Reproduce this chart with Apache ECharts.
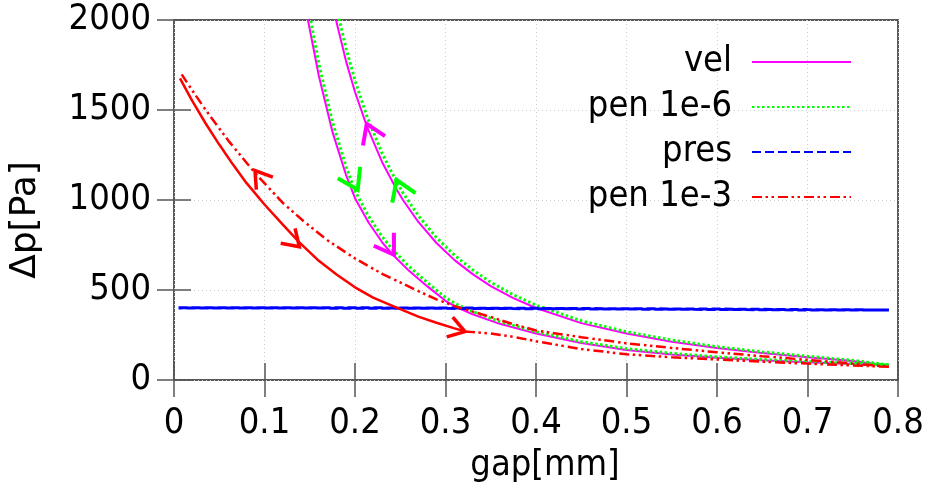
<!DOCTYPE html>
<html>
<head>
<meta charset="utf-8">
<script src="https://cdn.jsdelivr.net/npm/echarts@6/dist/echarts.min.js"></script>
<style>
  html, body { margin: 0; padding: 0; background: #ffffff; }
  #chart { width: 932px; height: 489px; }
</style>
</head>
<body>
<div id="chart"></div>
<script>
// Gap values (mm) of the opening branch (gap growing) and closing branch (gap shrinking)
const gapOpening = [0.144, 0.148, 0.16, 0.175, 0.19, 0.2, 0.215, 0.23, 0.241, 0.26, 0.28, 0.3, 0.312, 0.33, 0.36, 0.4, 0.45, 0.5, 0.55, 0.6, 0.65, 0.7, 0.75, 0.79];
const gapClosing = [0.79, 0.75, 0.7, 0.65, 0.6, 0.55, 0.5, 0.45, 0.4, 0.375, 0.35, 0.33, 0.31, 0.29, 0.27, 0.253, 0.246, 0.23, 0.213, 0.2, 0.19, 0.179, 0.175];

// Pressure drop (Pa), velocity-driven run
const velOpening = [2130, 2000, 1690, 1380, 1140, 1010, 875, 765, 700, 605, 520, 440, 405, 365, 312, 258, 205, 167, 142, 123, 110, 98, 89, 81];
const velClosing = [87, 105, 127, 150, 178, 213, 258, 316, 400, 455, 522, 588, 666, 761, 878, 1000, 1058, 1210, 1411, 1600, 1773, 2000, 2090];

// Pressure drop (Pa), penalty 1e-6
const pen6Opening = [2215, 2080, 1758, 1435, 1186, 1050, 910, 796, 728, 629, 541, 458, 421, 380, 324, 268, 213, 174, 148, 128, 114, 102, 92, 84];
const pen6Closing = [90, 109, 132, 156, 185, 222, 268, 329, 416, 473, 543, 612, 693, 791, 913, 1040, 1100, 1258, 1467, 1664, 1844, 2080, 2174];

// Pressure drop (Pa), pressure-driven run (out and back)
const presGap = [0.005, 0.1, 0.2, 0.3, 0.4, 0.5, 0.6, 0.7, 0.79, 0.79, 0.7, 0.6, 0.5, 0.4, 0.3, 0.2, 0.1, 0.005];
const presDp  = [402, 402, 401, 400, 398, 396, 394, 391, 389, 387, 389, 392, 394, 396, 398, 399, 400, 400];

// Pressure drop (Pa), penalty 1e-3: first part of the opening stroke
const pen3StartGap = [0.0066, 0.02, 0.035, 0.05, 0.065, 0.08, 0.1, 0.12, 0.1385, 0.16, 0.18, 0.2, 0.22, 0.246, 0.27, 0.29, 0.309, 0.3215];
const pen3StartDp  = [1676, 1552, 1425, 1308, 1198, 1095, 975, 865, 765, 662, 585, 515, 458, 402, 352, 318, 288, 270];
// rest of the opening stroke, then the closing stroke back to the wall
const pen3Gap = [0.3215, 0.33, 0.35, 0.375, 0.4, 0.45, 0.5, 0.55, 0.6, 0.65, 0.7, 0.75, 0.79,
                 0.79, 0.75, 0.7, 0.65, 0.6, 0.55, 0.5, 0.45, 0.4, 0.375, 0.35, 0.33, 0.312, 0.29, 0.27, 0.253, 0.23, 0.2, 0.17, 0.143, 0.12, 0.0895, 0.06, 0.035, 0.02, 0.0085];
const pen3Dp  = [270, 266, 258, 240, 215, 172, 143, 126, 114, 102, 91, 81, 73,
                 77, 92, 112, 132, 154, 178, 204, 238, 275, 310, 350, 380, 407, 448, 494, 535, 590, 675, 775, 883, 985, 1150, 1330, 1500, 1610, 1698];

// Direction arrows: [gap, dp, heading in screen degrees (0 = right, 90 = down)]
const redArrows     = [[0.1385, 740, 44], [0.3215, 269, 17], [0.0895, 1163, -127]];
const greenArrows   = [[0.203, 1057, 63], [0.246, 1111, -112]];
const magentaArrows = [[0.213, 1423, -113], [0.243, 696, 57]];

// Axis tick values
const gapTicks = [0, 0.1, 0.2, 0.3, 0.4, 0.5, 0.6, 0.7, 0.8];
const dpTicks = [0, 500, 1000, 1500, 2000];

const FONT = '"DejaVu Sans Condensed", "DejaVu Sans", sans-serif';
const FONT_WIDE = '"DejaVu Sans", sans-serif';

function pairs(xs, ys) {
  return xs.map((x, i) => [x, ys[i]]);
}

function arrowSeries(data, color, width, len) {
  return {
    type: 'custom',
    silent: true,
    z: 5,
    data: data,
    encode: { x: 0, y: 1 },
    renderItem: function (params, api) {
      const tip = api.coord([api.value(0), api.value(1)]);
      const back = api.value(2) * Math.PI / 180 + Math.PI;
      const half = 33 * Math.PI / 180;
      const a = [tip[0] + len * Math.cos(back + half), tip[1] + len * Math.sin(back + half)];
      const b = [tip[0] + len * Math.cos(back - half), tip[1] + len * Math.sin(back - half)];
      return {
        type: 'polyline',
        shape: { points: [a, tip, b] },
        style: { stroke: color, lineWidth: width, fill: null, lineCap: 'butt', lineJoin: 'miter' }
      };
    }
  };
}

const chart = echarts.init(document.getElementById('chart'), null, { renderer: 'canvas' });

const tickStyle = { color: '#555555', width: 1.5 };
const gapMin = gapTicks[0], gapMax = gapTicks[gapTicks.length - 1];
const dpMin = dpTicks[0], dpMax = dpTicks[dpTicks.length - 1];

const option = {
  backgroundColor: '#ffffff',
  animation: false,
  textStyle: { fontFamily: FONT },
  grid: {
    left: 174, right: 34, top: 20, bottom: 105,
    show: true, borderColor: '#222222', borderWidth: 1.5, backgroundColor: 'transparent'
  },
  legend: {
    data: ['vel', 'pen 1e-6', 'pres', 'pen 1e-3'],
    orient: 'vertical',
    align: 'right',
    right: 80,
    top: 44,
    padding: 0,
    itemWidth: 99,
    itemHeight: 14,
    itemGap: 9,
    itemStyle: { opacity: 0 },
    textStyle: { fontFamily: FONT, fontSize: 36, color: '#000000', lineHeight: 36, padding: [0, 15, 0, 0] },
    selectedMode: false
  },
  xAxis: [{
    type: 'value', min: gapMin, max: gapMax, interval: 0.1,
    name: 'gap[mm]', nameLocation: 'middle', nameGap: 68,
    nameTextStyle: { fontFamily: FONT, fontSize: 36, color: '#000000', padding: [0, 0, 0, 18] },
    axisLine: { show: false },
    axisTick: { show: true, inside: true, length: 17, lineStyle: tickStyle },
    axisLabel: { fontFamily: FONT, fontSize: 36, color: '#000000', margin: 26 },
    splitLine: { show: true, lineStyle: { color: '#cccccc', width: 1, type: [1, 3] } }
  }, {
    type: 'value', min: gapMin, max: gapMax, interval: 0.1, position: 'top',
    axisLine: { show: false },
    axisTick: { show: true, inside: true, length: 17, lineStyle: tickStyle },
    axisLabel: { show: false },
    splitLine: { show: false }
  }],
  yAxis: [{
    type: 'value', min: dpMin, max: dpMax, interval: 500,
    name: 'Δp[Pa]', nameLocation: 'middle', nameGap: 130,
    nameTextStyle: { fontFamily: FONT_WIDE, fontSize: 36, color: '#000000', padding: [0, 40, 0, 0] },
    axisLine: { show: false },
    axisTick: { show: true, inside: true, length: 17, lineStyle: tickStyle },
    axisLabel: {
      fontFamily: FONT, fontSize: 36, color: '#000000', margin: 23,
      formatter: function (v) { return String(v); }
    },
    splitLine: { show: true, lineStyle: { color: '#cccccc', width: 1, type: [1, 3] } }
  }, {
    type: 'value', min: dpMin, max: dpMax, interval: 500, position: 'right',
    axisLine: { show: false },
    axisTick: { show: true, inside: true, length: 17, lineStyle: tickStyle },
    axisLabel: { show: false },
    splitLine: { show: false }
  }],
  series: [
    {
      name: 'vel', type: 'line', symbol: 'none', clip: true, z: 2,
      data: pairs(gapOpening, velOpening).concat(pairs(gapClosing, velClosing)),
      lineStyle: { color: '#ff00ff', width: 2 }, itemStyle: { color: '#ff00ff' }
    },
    {
      name: 'pen 1e-6', type: 'line', symbol: 'none', clip: true, z: 2,
      data: pairs(gapOpening, pen6Opening).concat(pairs(gapClosing, pen6Closing)),
      lineStyle: { color: '#00ff00', width: 3, type: [2.5, 2.5] }, itemStyle: { color: '#00ff00' }
    },
    {
      name: 'pres', type: 'line', symbol: 'none', clip: true, z: 2,
      data: pairs(presGap, presDp),
      lineStyle: { color: '#0000ff', width: 3, type: [9, 4] }, itemStyle: { color: '#0000ff' }
    },
    {
      name: 'pen 1e-3', type: 'line', symbol: 'none', clip: true, z: 3,
      data: pairs(pen3Gap, pen3Dp),
      lineStyle: { color: '#ff0000', width: 2.5, type: [10, 3.5, 2.5, 3.5, 2.5, 4] }, itemStyle: { color: '#ff0000' }
    },
    {
      name: 'pen 1e-3 opening', type: 'line', symbol: 'none', clip: true, z: 3,
      data: pairs(pen3StartGap, pen3StartDp),
      lineStyle: { color: '#ff0000', width: 2.5 }, itemStyle: { color: '#ff0000' }
    },
    arrowSeries(redArrows, '#ff0000', 3.5, 19),
    arrowSeries(greenArrows, '#00ff00', 4, 23),
    arrowSeries(magentaArrows, '#ff00ff', 4, 22)
  ]
};

chart.setOption(option);
</script>
</body>
</html>
